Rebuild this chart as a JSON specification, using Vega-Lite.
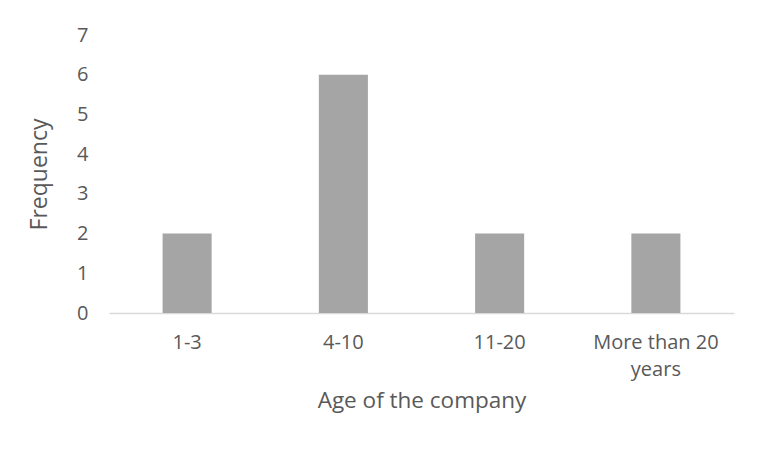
{
  "$schema": "https://vega.github.io/schema/vega-lite/v6.json",
  "autosize": "none",
  "width": 625,
  "height": 278,
  "padding": {"left": 109, "top": 35, "right": 24, "bottom": 144},
  "background": "white",
  "config": {
    "view": {"stroke": null},
    "font": "Open Sans"
  },
  "data": {
    "values": [
      {"age": "1-3", "frequency": 2},
      {"age": "4-10", "frequency": 6},
      {"age": "11-20", "frequency": 2},
      {"age": "More than 20 years", "frequency": 2}
    ]
  },
  "mark": {"type": "bar", "color": "#A5A5A5"},
  "encoding": {
    "x": {
      "field": "age",
      "type": "nominal",
      "sort": null,
      "title": "Age of the company",
      "scale": {"paddingInner": 0.686, "paddingOuter": 0.343},
      "axis": {
        "labelAngle": 0,
        "labelExpr": "datum.label == 'More than 20 years' ? ['More than 20', 'years'] : datum.label",
        "labelLineHeight": 27,
        "labelFontSize": 20,
        "labelColor": "#595959",
        "labelPadding": 19,
        "ticks": false,
        "domainColor": "#D9D9D9",
        "domainWidth": 1.5,
        "titleFontSize": 22.5,
        "titleFontWeight": "normal",
        "titleColor": "#595959",
        "titlePadding": 10
      }
    },
    "y": {
      "field": "frequency",
      "type": "quantitative",
      "title": "Frequency",
      "scale": {"domain": [0, 7]},
      "axis": {
        "values": [0, 1, 2, 3, 4, 5, 6, 7],
        "grid": false,
        "domain": false,
        "ticks": false,
        "labelFontSize": 20,
        "labelColor": "#595959",
        "labelPadding": 21,
        "titleFontSize": 23,
        "titleFontWeight": "normal",
        "titleColor": "#595959",
        "titlePadding": 25
      }
    }
  }
}
